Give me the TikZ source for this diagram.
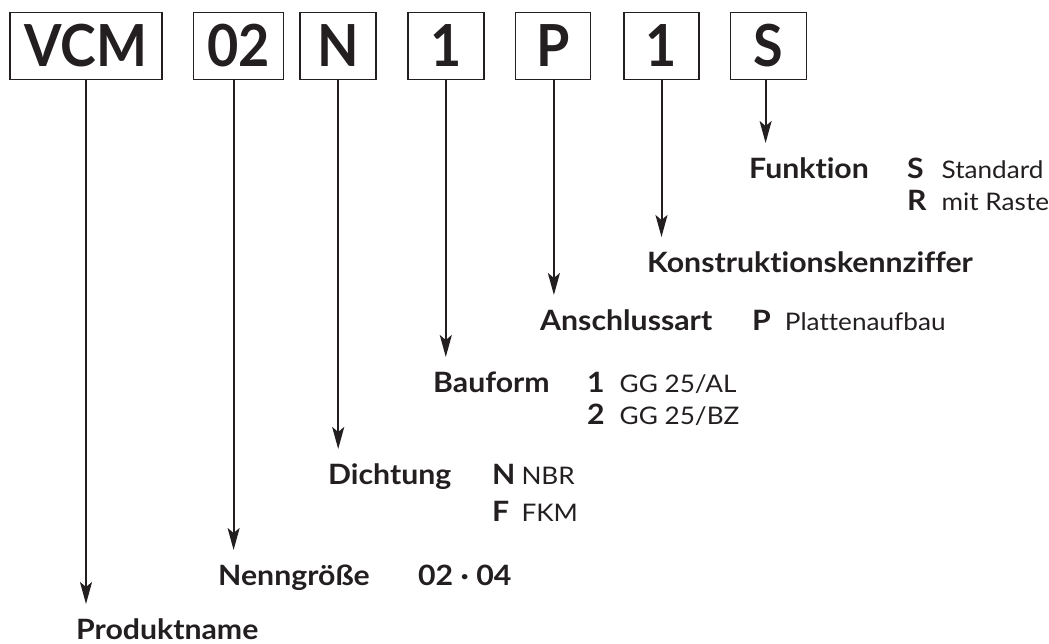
\documentclass[tikz,border=0pt]{standalone}
\usepackage{fontspec}
\setmainfont{Lato}[FakeStretch=1.08,Ligatures=NoCommon]
\newfontfamily\boxfont{Lato}[FakeStretch=0.93,Ligatures=NoCommon]
\usetikzlibrary{arrows.meta,positioning}
\definecolor{ink}{HTML}{231F20}
\newcommand\code[1]{{\fontsize{28}{32}\selectfont\bfseries #1}}
\tikzset{
  codebox/.style={draw=ink,line width=1.6pt,inner sep=0pt,minimum height=67pt,text height=41.5pt,text depth=0pt,font=\boxfont\fontsize{58}{60}\selectfont\bfseries,text=ink},
  field/.style={anchor=base west,inner sep=0pt,outer ysep=14pt,text height=21pt,text depth=0pt,font=\fontsize{28}{32}\selectfont\bfseries,text=ink},
  vals/.style={anchor=base west,inner sep=0pt,font=\fontsize{24.2}{32}\selectfont,text=ink},
  arrow/.style={-{Stealth[length=22pt,width=12pt,inset=5pt]},line width=2pt,draw=ink}
}

\begin{document}
\begin{tikzpicture}[x=1pt,y=-1pt]
  \useasboundingbox (0,0) rectangle (1049,643);

  % type code boxes
  \node (vcm) [codebox,minimum width=152pt] at (86,46) {VCM};
  \node (size) [codebox,minimum width=90pt,right=30pt of vcm] {02};
  \node (seal) [codebox,minimum width=76pt,right=15pt of size] {N};
  \node (form) [codebox,minimum width=76pt,right=30pt of seal] {1};
  \node (port) [codebox,minimum width=75pt,right=30pt of form] {P};
  \node (constr) [codebox,minimum width=75pt,right=32pt of port] {1};
  \node (func) [codebox,minimum width=76pt,right=30pt of constr] {S};

  % field names
  \node (funcname) [field] at (749,178) {Funktion};
  \node (constrname) [field] at (647,272) {Konstruktionskennziffer};
  \node (portname) [field] at (540,330) {Anschlussart};
  \node (formname) [field] at (433,392) {Bauform};
  \node (sealname) [field] at (328,484) {Dichtung};
  \node (sizename) [field] at (218,585) {Nenngröße};
  \node (prodname) [field] at (76,639) {Produktname};

  % values
  \node (funcval) [vals] at (907,178) {\begin{tabular}[t]{@{}l@{\hspace{15pt}}l@{}}\code{S} & Standard\\ \code{R} & mit Raste\end{tabular}};
  \node (portval) [vals] at (752,330) {\begin{tabular}[t]{@{}l@{\hspace{14pt}}l@{}}\code{P} & Plattenaufbau\end{tabular}};
  \node (formval) [vals] at (587,392) {\begin{tabular}[t]{@{}l@{\hspace{15pt}}l@{}}\code{1} & GG 25/AL\\ \code{2} & GG 25/BZ\end{tabular}};
  \node (sealval) [vals] at (492,484) {\begin{tabular}[t]{@{}l@{\hspace{6pt}}l@{}}\code{N} & NBR\\[5pt] \code{F} & FKM\end{tabular}};
  \node (sizeval) [vals] at (418,585) {\code{02 · 04}};

  \draw[arrow] (vcm.south) -- (vcm.south |- prodname.north);
  \draw[arrow] ([xshift=-5pt]size.south) -- ([xshift=-5pt]size.south |- sizename.north);
  \draw[arrow] (seal.south) -- (seal.south |- sealname.north);
  \draw[arrow] (form.south) -- (form.south |- formname.north);
  \draw[arrow] ([xshift=1pt]port.south) -- ([xshift=1pt]port.south |- portname.north);
  \draw[arrow] (constr.south) -- (constr.south |- constrname.north);
  \draw[arrow] ([xshift=-3pt]func.south) -- ([xshift=-3pt]func.south |- funcname.north);
\end{tikzpicture}
\end{document}
